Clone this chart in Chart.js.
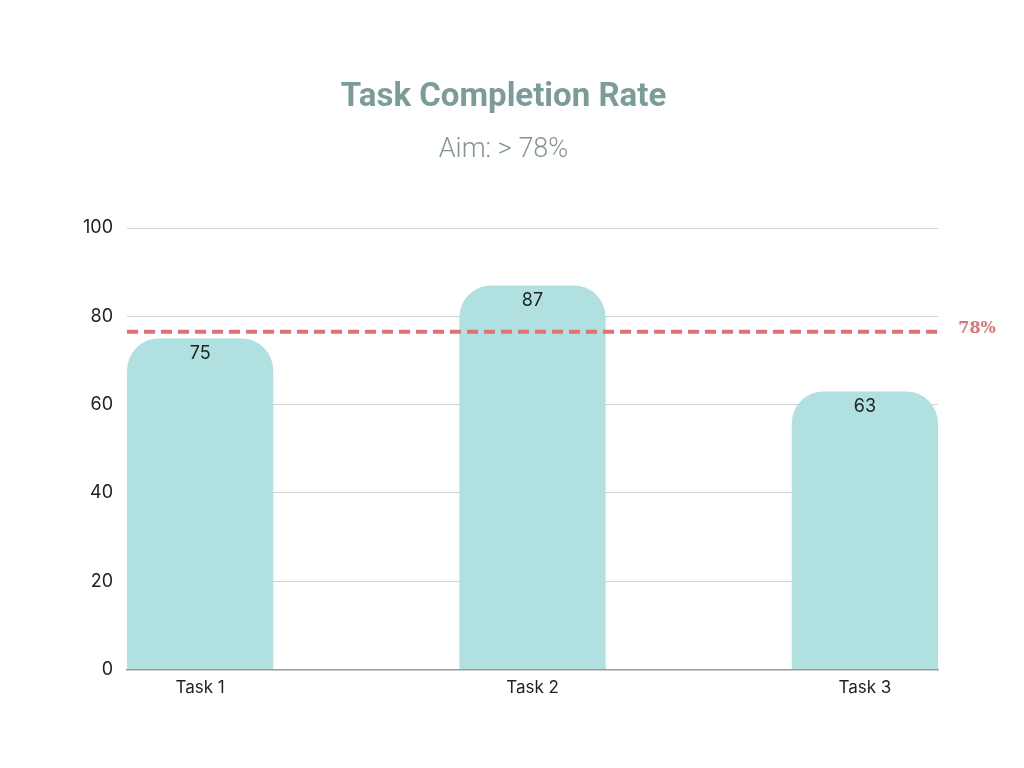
<!DOCTYPE html>
<html>
<head>
<meta charset="utf-8">
<title>Task Completion Rate</title>
<script src="https://cdn.jsdelivr.net/npm/chart.js@4"></script>
<style>
  html, body { margin: 0; padding: 0; background: #fff; }
  #wrap { width: 1024px; height: 768px; }
</style>
</head>
<body>
<div id="wrap"><canvas id="rate-chart"></canvas></div>
<script>
// chart values
const tasks = ['Task 1', 'Task 2', 'Task 3'];
const completion = [75, 87, 63];
const yTicks = [0, 20, 40, 60, 80, 100];
const aimLine = 76.5;      // where the dashed line sits in the picture
const aimLabel = '78%';

const ctx = document.getElementById('rate-chart').getContext('2d');

// dashed aim line, its label and the value text inside each bar
const overlayPlugin = {
    id: 'overlay',
    afterDatasetsDraw(chart) {
        const c = chart.ctx;
        const area = chart.chartArea;
        const y = chart.scales.y.getPixelForValue(aimLine);

        c.save();
        c.strokeStyle = '#e07272';
        c.lineWidth = 4;
        c.setLineDash([11, 6]);
        c.beginPath();
        c.moveTo(area.left, y);
        c.lineTo(area.right, y);
        c.stroke();
        c.setLineDash([]);

        c.fillStyle = '#e07272';
        c.font = 'bold 16px "Roboto Slab", "DejaVu Serif", serif';
        c.textAlign = 'center';
        c.textBaseline = 'middle';
        c.fillText(aimLabel, area.right + 39, y - 3);

        // values
        c.fillStyle = '#222';
        c.font = '18px Inter, "Open Sans", sans-serif';
        chart.getDatasetMeta(0).data.forEach((bar, i) => {
            c.fillText(completion[i], bar.x, bar.y + 15);
        });
        c.restore();
    }
};

new Chart(ctx, {
    type: 'bar',
    data: {
        datasets: [{
            data: completion.map((v, i) => ({ x: i, y: v })),
            backgroundColor: '#b0e0e0',
            borderRadius: { topLeft: 32, topRight: 32 },
            borderSkipped: 'bottom',
            barPercentage: 0.44,
            categoryPercentage: 1
        }]
    },
    options: {
        responsive: true,
        maintainAspectRatio: false,
        animation: false,
        layout: { padding: { top: 78, left: 69, right: 86, bottom: 62 } },
        plugins: {
            legend: { display: false },
            tooltip: { enabled: false },
            title: {
                display: true,
                text: 'Task Completion Rate',
                color: '#7b9c98',
                font: { family: 'Roboto', size: 33, weight: 'bold' },
                padding: { top: 0, bottom: 16 }
            },
            subtitle: {
                display: true,
                text: 'Aim: > 78%',
                color: '#849693',
                font: { family: 'Roboto', size: 27, weight: 300 },
                padding: { top: 0, bottom: 62 }
            }
        },
        scales: {
            x: {
                type: 'linear',
                offset: false,
                min: -0.22,
                max: tasks.length - 1 + 0.22,
                grid: { display: false, drawTicks: false, offset: false },
                border: { display: true, color: '#9a9a9a', width: 1.5 },
                ticks: {
                    stepSize: 1,
                    includeBounds: false,
                    padding: 8,
                    color: '#222',
                    font: { family: 'Inter', size: 17 },
                    callback: v => tasks[v] !== undefined && Number.isInteger(v) ? tasks[v] : ''
                }
            },
            y: {
                min: yTicks[0],
                max: yTicks[yTicks.length - 1],
                afterBuildTicks: axis => { axis.ticks = yTicks.map(v => ({ value: v })); },
                grid: { color: '#d2d2d2', lineWidth: 1, drawTicks: false },
                border: { display: false },
                ticks: {
                    padding: 14,
                    color: '#222',
                    font: { family: 'Inter', size: 18 }
                }
            }
        }
    },
    plugins: [overlayPlugin]
});
</script>
</body>
</html>
